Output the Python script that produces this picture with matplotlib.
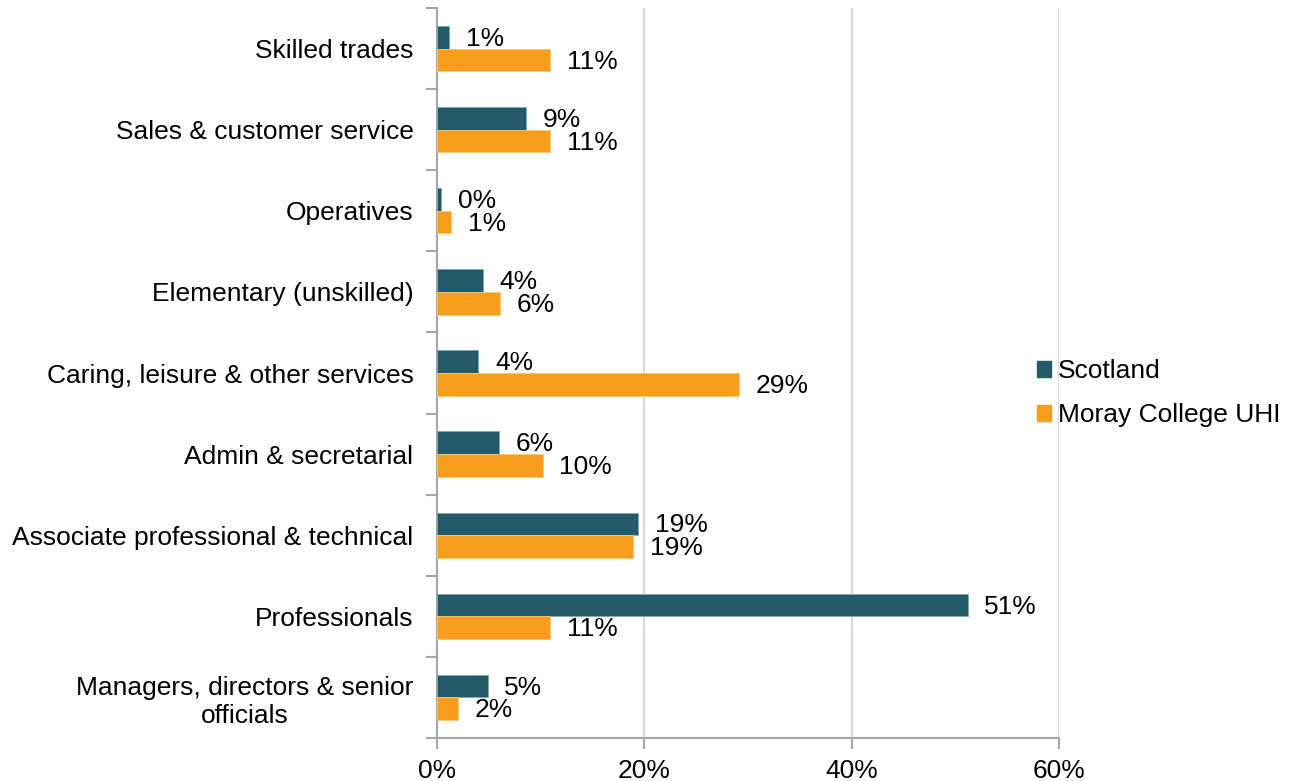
import matplotlib
matplotlib.use("Agg")
import matplotlib.pyplot as plt
import numpy as np
from matplotlib.patches import Patch

categories = ["Managers, directors & senior\nofficials", "Professionals",
              "Associate professional & technical", "Admin & secretarial",
              "Caring, leisure & other services", "Elementary (unskilled)",
              "Operatives", "Sales & customer service", "Skilled trades"]
scotland = [4.9, 51.2, 19.4, 6.0, 4.0, 4.4, 0.4, 8.6, 1.2]
moray = [2.0, 10.9, 18.9, 10.2, 29.1, 6.1, 1.35, 10.9, 10.9]
scotland_labels = ["5%", "51%", "19%", "6%", "4%", "4%", "0%", "9%", "1%"]
moray_labels = ["2%", "11%", "19%", "10%", "29%", "6%", "1%", "11%", "11%"]
xticks = [0, 20, 40, 60]

c_scot = "#235A69"
c_moray = "#F99D1F"

plt.rcParams['font.family'] = ['Liberation Sans', 'DejaVu Sans']
fig = plt.figure(figsize=(12.93, 7.81), dpi=100)
ax = fig.add_axes([437/1293, 1-738/781, (1059-437)/1293, (738-8)/781])

y = np.arange(len(categories))
h = 0.28
ax.barh(y + h/2, scotland, height=h, color=c_scot, edgecolor="#7FA7B2", linewidth=0.6, zorder=3)
ax.barh(y - h/2, moray, height=h, color=c_moray, edgecolor="#FCC77A", linewidth=0.6, zorder=3)

fs = 19
for yi, v, lab in zip(y, scotland, scotland_labels):
    ax.text(v + 1.6, yi + h/2 - 0.02, lab, va="center", ha="left", fontsize=fs, color="#000000")
for yi, v, lab in zip(y, moray, moray_labels):
    ax.text(v + 1.6, yi - h/2 - 0.02, lab, va="center", ha="left", fontsize=fs, color="#000000")

ax.set_xlim(0, 60)
ax.set_ylim(-0.5, len(categories) - 0.5)
ax.set_xticks(xticks)
ax.set_xticklabels([f"{t}%" for t in xticks], fontsize=fs)
ax.set_yticks(y)
ax.set_yticklabels(categories, fontsize=fs)
ax.tick_params(axis="y", length=0, pad=17)
ax.set_yticks(np.arange(-0.5, len(categories), 1.0), minor=True)
ax.tick_params(axis="y", which="minor", length=8, width=1.5, color="#A6A6A6")
ax.tick_params(axis="x", length=8, width=1.5, color="#A6A6A6", pad=7)
for lbl in ax.get_yticklabels():
    lbl.set_multialignment("center")

ax.grid(axis="x", color="#D9D9D9", linewidth=1.5, zorder=0)
for s in ["top", "right"]:
    ax.spines[s].set_visible(False)
for s in ["left", "bottom"]:
    ax.spines[s].set_color("#A6A6A6")
    ax.spines[s].set_linewidth(1.5)

handles = [Patch(color=c_scot, label="Scotland"), Patch(color=c_moray, label="Moray College UHI")]
fig.legend(handles=handles, loc="center left", bbox_to_anchor=(1026/1293, 1-393/781),
           frameon=False, fontsize=fs, handlelength=0.55, handleheight=0.55,
           handletextpad=0.25, labelspacing=0.75, borderaxespad=0)

fig.savefig("out.png", dpi=100)
